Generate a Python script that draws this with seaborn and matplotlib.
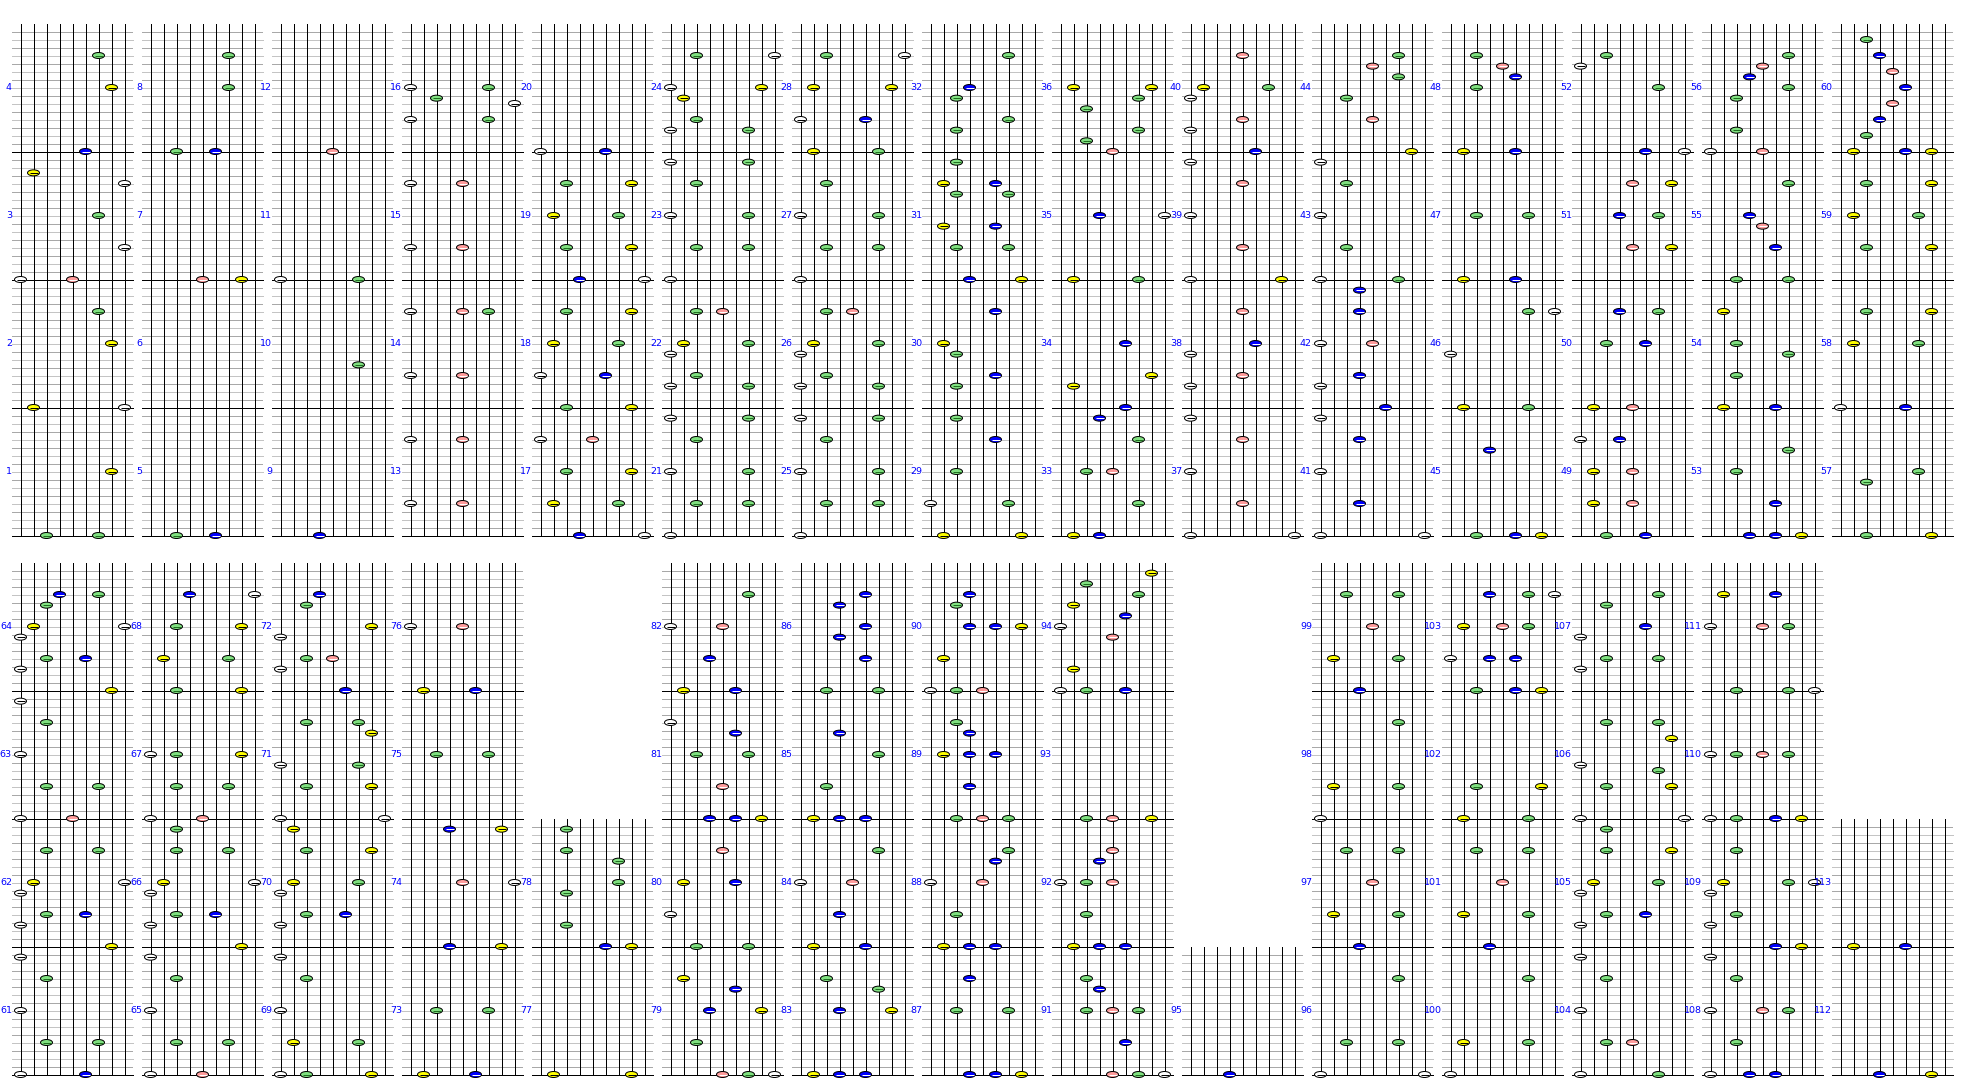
import matplotlib
matplotlib.use("Agg")
import matplotlib.pyplot as plt
from matplotlib.path import Path
from matplotlib.markers import MarkerStyle
import numpy as np
import pandas as pd
import seaborn as sns

# ---------------- data ----------------
# lane -> note colour family (pop'n style 9 buttons)
lane_kind = ["white", "yellow", "green", "blue", "red", "blue", "green", "yellow", "white"]
kind_fill = {"white": "#ffffff", "yellow": "#ffff00", "green": "#80e080",
             "blue": "#0000ff", "red": "#ff9c9c"}
kind_stripe = {"white": "#000000", "yellow": "#000000", "green": "#207020",
               "blue": "#ffffff", "red": "#ffffff"}

# panel layout: first measure and number of measures in each column
panel_first = [1, 5, 9, 13, 17, 21, 25, 29, 33, 37, 41, 45, 49, 53, 57,
               61, 65, 69, 73, 77, 79, 83, 87, 91, 95, 96, 100, 104, 108, 112]
panel_len = [4] * 15 + [4, 4, 4, 4, 2, 4, 4, 4, 4, 1, 4, 4, 4, 4, 2]

steps_per_measure = 16   # grid lines per measure
ticks_per_measure = 48   # note position resolution

# notes: (measure, tick within measure [0..47], lane 1..9)
notes_m001_020 = [
    (1, 0, 3), (1, 0, 7), (1, 24, 8),
    (2, 0, 2), (2, 0, 9), (2, 24, 8), (2, 36, 7),
    (3, 0, 1), (3, 0, 5), (3, 12, 9), (3, 24, 7), (3, 36, 9), (3, 40, 2),
    (4, 0, 6), (4, 24, 8), (4, 36, 7),
    (5, 0, 3), (5, 0, 6),
    (7, 0, 5), (7, 0, 8),
    (8, 0, 3), (8, 0, 6), (8, 24, 7), (8, 36, 7),
    (9, 0, 4),
    (10, 16, 7),
    (11, 0, 1), (11, 0, 7),
    (12, 0, 5),
    (13, 12, 1), (13, 12, 5), (13, 36, 1), (13, 36, 5),
    (14, 12, 1), (14, 12, 5), (14, 36, 1), (14, 36, 5), (14, 36, 7),
    (15, 12, 1), (15, 12, 5), (15, 36, 1), (15, 36, 5),
    (16, 12, 1), (16, 12, 7), (16, 18, 9), (16, 20, 3), (16, 24, 1), (16, 24, 7),
    (17, 0, 4), (17, 0, 9), (17, 12, 2), (17, 12, 7), (17, 24, 3), (17, 24, 8), (17, 36, 1), (17, 36, 5),
    (18, 0, 3), (18, 0, 8), (18, 12, 1), (18, 12, 6), (18, 24, 2), (18, 24, 7), (18, 36, 3), (18, 36, 8),
    (19, 0, 4), (19, 0, 9), (19, 12, 3), (19, 12, 8), (19, 24, 2), (19, 24, 7), (19, 36, 3), (19, 36, 8),
    (20, 0, 1), (20, 0, 6),
]

notes_m021_040 = [
    (21, 0, 1), (21, 12, 3), (21, 12, 7), (21, 24, 1), (21, 24, 7), (21, 36, 3), (21, 44, 1), (21, 44, 7),
    (22, 8, 1), (22, 8, 7), (22, 12, 3), (22, 20, 1), (22, 24, 2), (22, 24, 7), (22, 36, 3), (22, 36, 5),
    (23, 0, 1), (23, 12, 3), (23, 12, 7), (23, 24, 1), (23, 24, 7), (23, 36, 3), (23, 44, 1), (23, 44, 7),
    (24, 8, 1), (24, 8, 7), (24, 12, 3), (24, 20, 2), (24, 24, 1), (24, 24, 8), (24, 36, 3), (24, 36, 9),
    (25, 0, 1), (25, 12, 3), (25, 12, 7), (25, 24, 1), (25, 24, 7), (25, 36, 3), (25, 44, 1), (25, 44, 7),
    (26, 8, 1), (26, 8, 7), (26, 12, 3), (26, 20, 1), (26, 24, 2), (26, 24, 7), (26, 36, 3), (26, 36, 5),
    (27, 0, 1), (27, 12, 3), (27, 12, 7), (27, 24, 1), (27, 24, 7), (27, 36, 3),
    (28, 0, 2), (28, 0, 7), (28, 12, 1), (28, 12, 6), (28, 24, 2), (28, 24, 8), (28, 36, 3), (28, 36, 9),
    (29, 0, 2), (29, 0, 8), (29, 12, 1), (29, 12, 7), (29, 24, 3), (29, 36, 6), (29, 44, 3),
    (30, 8, 3), (30, 12, 6), (30, 20, 3), (30, 24, 2), (30, 36, 6),
    (31, 0, 4), (31, 0, 8), (31, 12, 3), (31, 12, 7), (31, 20, 2), (31, 20, 6), (31, 32, 3), (31, 32, 7),
    (31, 36, 2), (31, 36, 6), (31, 44, 3),
    (32, 8, 3), (32, 12, 7), (32, 20, 3), (32, 24, 4), (32, 36, 7),
    (33, 0, 2), (33, 0, 4), (33, 12, 7), (33, 24, 3), (33, 24, 5), (33, 36, 7), (33, 44, 4),
    (34, 0, 6), (34, 8, 2), (34, 12, 8), (34, 24, 6),
    (35, 0, 2), (35, 0, 7), (35, 24, 4), (35, 24, 9),
    (36, 0, 5), (36, 4, 3), (36, 8, 7), (36, 16, 3), (36, 20, 7), (36, 24, 2), (36, 24, 8),
    (37, 0, 1), (37, 0, 9), (37, 12, 5), (37, 24, 1), (37, 36, 5), (37, 44, 1),
    (38, 8, 1), (38, 12, 5), (38, 20, 1), (38, 24, 6), (38, 36, 5),
    (39, 0, 1), (39, 0, 8), (39, 12, 5), (39, 24, 1), (39, 36, 5), (39, 44, 1),
    (40, 0, 6), (40, 8, 1), (40, 12, 5), (40, 20, 1), (40, 24, 2), (40, 24, 7), (40, 36, 5),
]

notes_m041_060 = [
    (41, 0, 1), (41, 0, 9), (41, 12, 4), (41, 24, 1), (41, 36, 4), (41, 44, 1),
    (42, 0, 6), (42, 8, 1), (42, 12, 4), (42, 24, 1), (42, 24, 5), (42, 36, 4), (42, 44, 4),
    (43, 0, 1), (43, 0, 7), (43, 12, 3), (43, 24, 1), (43, 36, 3), (43, 44, 1),
    (44, 0, 8), (44, 12, 5), (44, 20, 3), (44, 28, 7), (44, 32, 5), (44, 36, 7),
    (45, 0, 3), (45, 0, 6), (45, 0, 8), (45, 32, 4),
    (46, 0, 2), (46, 0, 7), (46, 20, 1), (46, 36, 7), (46, 36, 9),
    (47, 0, 2), (47, 0, 6), (47, 24, 3), (47, 24, 7),
    (48, 0, 2), (48, 0, 6), (48, 24, 3), (48, 28, 6), (48, 32, 5), (48, 36, 3),
    (49, 0, 3), (49, 0, 6), (49, 12, 2), (49, 12, 5), (49, 24, 2), (49, 24, 5), (49, 36, 1), (49, 36, 4),
    (50, 0, 2), (50, 0, 5), (50, 24, 3), (50, 24, 6), (50, 36, 4), (50, 36, 7),
    (51, 12, 5), (51, 12, 8), (51, 24, 4), (51, 24, 7), (51, 36, 5), (51, 36, 8),
    (52, 0, 6), (52, 0, 9), (52, 24, 7), (52, 32, 1), (52, 36, 3),
    (53, 0, 4), (53, 0, 6), (53, 0, 8), (53, 12, 6), (53, 24, 3), (53, 32, 7),
    (54, 0, 2), (54, 0, 6), (54, 12, 3), (54, 20, 7), (54, 24, 3), (54, 36, 2),
    (55, 0, 3), (55, 0, 7), (55, 12, 6), (55, 20, 5), (55, 24, 4), (55, 36, 7),
    (56, 0, 1), (56, 0, 5), (56, 8, 3), (56, 20, 3), (56, 24, 7), (56, 28, 4), (56, 32, 5), (56, 36, 7),
    (57, 0, 3), (57, 0, 8), (57, 20, 3), (57, 24, 7),
    (58, 0, 1), (58, 0, 6), (58, 24, 2), (58, 24, 7), (58, 36, 3), (58, 36, 8),
    (59, 12, 3), (59, 12, 8), (59, 24, 2), (59, 24, 7), (59, 36, 3), (59, 36, 8),
    (60, 0, 2), (60, 0, 6), (60, 0, 8), (60, 6, 3), (60, 12, 4), (60, 18, 5), (60, 24, 6),
    (60, 30, 5), (60, 36, 4), (60, 42, 3),
]

notes_m061_080 = [
    (61, 0, 1), (61, 0, 6), (61, 12, 3), (61, 12, 7), (61, 24, 1), (61, 36, 3), (61, 44, 1),
    (62, 0, 8), (62, 8, 1), (62, 12, 3), (62, 12, 6), (62, 20, 1), (62, 24, 2), (62, 24, 9), (62, 36, 3), (62, 36, 7),
    (63, 0, 1), (63, 0, 5), (63, 12, 3), (63, 12, 7), (63, 24, 1), (63, 36, 3), (63, 44, 1),
    (64, 0, 8), (64, 8, 1), (64, 12, 3), (64, 12, 6), (64, 20, 1), (64, 24, 2), (64, 24, 9), (64, 32, 3),
    (64, 36, 4), (64, 36, 7),
    (65, 0, 1), (65, 0, 5), (65, 12, 3), (65, 12, 7), (65, 24, 1), (65, 36, 3), (65, 44, 1),
    (66, 0, 8), (66, 8, 1), (66, 12, 3), (66, 12, 6), (66, 20, 1), (66, 24, 2), (66, 24, 9), (66, 36, 3),
    (66, 36, 7), (66, 44, 3),
    (67, 0, 1), (67, 0, 5), (67, 12, 3), (67, 12, 7), (67, 24, 1), (67, 24, 3), (67, 24, 8),
    (68, 0, 3), (68, 0, 8), (68, 12, 2), (68, 12, 7), (68, 24, 3), (68, 24, 8), (68, 36, 4), (68, 36, 9),
    (69, 0, 1), (69, 0, 3), (69, 0, 8), (69, 12, 2), (69, 12, 7), (69, 24, 1), (69, 36, 3), (69, 44, 1),
    (70, 8, 1), (70, 12, 3), (70, 12, 6), (70, 20, 1), (70, 24, 2), (70, 24, 7), (70, 36, 3), (70, 36, 8), (70, 44, 2),
    (71, 0, 1), (71, 0, 9), (71, 12, 3), (71, 12, 8), (71, 20, 1), (71, 20, 7), (71, 32, 8), (71, 36, 3), (71, 36, 7),
    (72, 0, 6), (72, 8, 1), (72, 12, 3), (72, 12, 5), (72, 20, 1), (72, 24, 8), (72, 32, 3), (72, 36, 4),
    (73, 0, 2), (73, 0, 6), (73, 24, 3), (73, 24, 7),
    (74, 0, 4), (74, 0, 8), (74, 24, 5), (74, 24, 9), (74, 44, 4), (74, 44, 8),
    (75, 24, 3), (75, 24, 7),
    (76, 0, 2), (76, 0, 6), (76, 24, 1), (76, 24, 5),
    (77, 0, 2), (77, 0, 8),
    (78, 0, 6), (78, 0, 8), (78, 8, 3), (78, 20, 3), (78, 24, 7), (78, 32, 7), (78, 36, 3), (78, 44, 3),
    (79, 0, 5), (79, 0, 7), (79, 0, 9), (79, 12, 3), (79, 24, 4), (79, 24, 8), (79, 32, 6), (79, 36, 2),
    (80, 0, 3), (80, 0, 7), (80, 12, 1), (80, 24, 2), (80, 24, 6), (80, 36, 5),
]

notes_m081_095 = [
    (81, 0, 4), (81, 0, 6), (81, 0, 8), (81, 12, 5), (81, 24, 3), (81, 24, 7), (81, 32, 6), (81, 36, 1),
    (82, 0, 2), (82, 0, 6), (82, 12, 4), (82, 24, 1), (82, 24, 5), (82, 36, 7),
    (83, 0, 2), (83, 0, 4), (83, 0, 6), (83, 24, 4), (83, 24, 8), (83, 32, 7), (83, 36, 3),
    (84, 0, 2), (84, 0, 6), (84, 12, 4), (84, 24, 1), (84, 24, 5), (84, 36, 7),
    (85, 0, 2), (85, 0, 4), (85, 0, 6), (85, 12, 3), (85, 24, 7), (85, 32, 4),
    (86, 0, 3), (86, 0, 7), (86, 12, 6), (86, 20, 4), (86, 24, 6), (86, 32, 4), (86, 36, 6),
    (87, 0, 4), (87, 0, 6), (87, 0, 8), (87, 24, 3), (87, 24, 7), (87, 36, 4),
    (88, 0, 2), (88, 0, 4), (88, 0, 6), (88, 12, 3), (88, 24, 1), (88, 24, 5), (88, 32, 6), (88, 36, 7),
    (89, 0, 3), (89, 0, 5), (89, 0, 7), (89, 12, 4), (89, 24, 2), (89, 24, 4), (89, 24, 6), (89, 32, 4), (89, 36, 3),
    (90, 0, 1), (90, 0, 3), (90, 0, 5), (90, 12, 2), (90, 24, 4), (90, 24, 6), (90, 24, 8), (90, 32, 3), (90, 36, 4),
    (91, 0, 5), (91, 0, 7), (91, 0, 9), (91, 12, 6), (91, 24, 3), (91, 24, 5), (91, 24, 7), (91, 32, 4), (91, 36, 3),
    (92, 0, 2), (92, 0, 4), (92, 0, 6), (92, 12, 3), (92, 24, 1), (92, 24, 3), (92, 24, 5), (92, 32, 4), (92, 36, 5),
    (93, 0, 3), (93, 0, 5), (93, 0, 8),
    (94, 0, 1), (94, 0, 3), (94, 0, 6), (94, 8, 2), (94, 20, 5), (94, 24, 1), (94, 28, 6), (94, 32, 2),
    (94, 36, 7), (94, 40, 3), (94, 44, 8),
    (95, 0, 4),
]

notes_m096_113 = [
    (96, 0, 1), (96, 0, 9), (96, 12, 3), (96, 12, 7), (96, 36, 7),
    (97, 0, 4), (97, 12, 2), (97, 12, 7), (97, 24, 5), (97, 36, 3), (97, 36, 7),
    (98, 0, 1), (98, 12, 2), (98, 12, 7), (98, 36, 7),
    (99, 0, 4), (99, 12, 2), (99, 12, 7), (99, 24, 5), (99, 36, 3), (99, 36, 7),
    (100, 0, 1), (100, 12, 2), (100, 12, 7), (100, 36, 7),
    (101, 0, 4), (101, 12, 2), (101, 12, 7), (101, 24, 5), (101, 36, 3), (101, 36, 7),
    (102, 0, 2), (102, 0, 7), (102, 12, 3), (102, 12, 8),
    (103, 0, 3), (103, 0, 6), (103, 0, 8), (103, 12, 1), (103, 12, 4), (103, 12, 6), (103, 24, 2),
    (103, 24, 5), (103, 24, 7), (103, 36, 4), (103, 36, 7), (103, 36, 9),
    (104, 0, 1), (104, 0, 7), (104, 12, 3), (104, 12, 5), (104, 24, 1), (104, 36, 3), (104, 44, 1),
    (105, 8, 1), (105, 12, 3), (105, 12, 6), (105, 20, 1), (105, 24, 2), (105, 24, 7), (105, 36, 3),
    (105, 36, 8), (105, 44, 3),
    (106, 0, 1), (106, 0, 9), (106, 12, 3), (106, 12, 8), (106, 18, 7), (106, 20, 1), (106, 30, 8),
    (106, 36, 3), (106, 36, 7),
    (107, 8, 1), (107, 12, 3), (107, 12, 7), (107, 20, 1), (107, 24, 6), (107, 32, 3), (107, 36, 7),
    (108, 0, 1), (108, 0, 4), (108, 0, 6), (108, 12, 3), (108, 24, 1), (108, 24, 5), (108, 24, 7),
    (108, 36, 3), (108, 44, 1),
    (109, 0, 6), (109, 0, 8), (109, 8, 1), (109, 12, 3), (109, 20, 1), (109, 24, 2), (109, 24, 7),
    (109, 24, 9), (109, 36, 3),
    (110, 0, 1), (110, 0, 3), (110, 0, 6), (110, 0, 8), (110, 24, 1), (110, 24, 3), (110, 24, 5), (110, 24, 7),
    (111, 0, 3), (111, 0, 7), (111, 0, 9), (111, 24, 1), (111, 24, 5), (111, 24, 7), (111, 36, 2), (111, 36, 6),
    (112, 0, 4), (112, 0, 8),
    (113, 0, 2), (113, 0, 6),
]

# ---------------- layout (pixels of the 1970x1090 canvas) ----------------
W, H = 1970, 1090
lane_px = 13.0            # distance between lanes
measure_px = 128.0        # height of one measure
first_lane_px = 20.5      # x of lane 1 in the first column
row_bottom_px = [535.5, 1074.5]
panels_per_row = 15
lanes_per_panel = 10      # 9 lanes + gap
line_overhang = 8.5 / lane_px

sns.set_theme(style="white")
plt.rcParams["font.family"] = ["DejaVu Sans"]

fig = plt.figure(figsize=(W / 100, H / 100), dpi=100)
fig.patch.set_facecolor("white")
ax = fig.add_axes([0, 0, 1, 1])
ax.set_xlim(1 - first_lane_px / lane_px, 1 + (W - first_lane_px) / lane_px)
ax.set_ylim(-(H - row_bottom_px[1]) / measure_px, row_bottom_px[1] / measure_px)
ax.axis("off")
row_base = [(row_bottom_px[1] - row_bottom_px[0]) / measure_px, 0.0]

lw = 0.72  # one pixel

# measure -> (x offset, y offset)
measure_pos = {}
black_y, black_x0, black_x1 = [], [], []
gray_y, gray_x0, gray_x1 = [], [], []
dot_y, dot_x0, dot_x1 = [], [], []
for i, (first, n) in enumerate(zip(panel_first, panel_len)):
    row, col = divmod(i, panels_per_row)
    xo = col * lanes_per_panel
    yb = row_base[row]
    xa, xb = xo + 1 - line_overhang, xo + 9 + line_overhang
    for j in range(n):
        measure_pos[first + j] = (xo, yb + j)
        ax.text(xa, yb + j + 0.5, str(first + j), ha="right", va="center",
                color="#0000ff", fontsize=6.8, zorder=8)
    for k in range(n * steps_per_measure):
        y = yb + k / steps_per_measure
        if k % steps_per_measure == 0:
            black_y.append(y); black_x0.append(xa); black_x1.append(xb)
        elif k % 2 == 0:
            gray_y.append(y); gray_x0.append(xa); gray_x1.append(xb)
        else:
            dot_y.append(y); dot_x0.append(xa); dot_x1.append(xb)
    ax.vlines([xo + l for l in range(1, 10)], yb, yb + n, colors="black",
              linewidth=lw, antialiased=False, zorder=3)

ax.hlines(dot_y, dot_x0, dot_x1, colors="#a8a8a8", linewidth=lw,
          linestyles=(0, (1, 1)), antialiased=False, zorder=1)
ax.hlines(gray_y, gray_x0, gray_x1, colors="#c4c4c4", linewidth=lw,
          antialiased=False, zorder=1)
ax.hlines(black_y, black_x0, black_x1, colors="black", linewidth=lw,
          antialiased=False, zorder=2)

# ---------------- notes ----------------
all_notes = (notes_m001_020 + notes_m021_040 + notes_m041_060 +
             notes_m061_080 + notes_m081_095 + notes_m096_113)
df = pd.DataFrame(all_notes, columns=["measure", "tick", "lane"])
df["x"] = [measure_pos[m][0] + l for m, l in zip(df["measure"], df["lane"])]
df["y"] = [measure_pos[m][1] + t / ticks_per_measure for m, t in zip(df["measure"], df["tick"])]
df["kind"] = [lane_kind[l - 1] for l in df["lane"]]

circle = Path.unit_circle()
ellipse = Path(circle.vertices * np.array([1.0, 0.5]), circle.codes)
ellipse_marker = MarkerStyle(ellipse)
note_w_pt = 12.0 * 0.72

sns.scatterplot(data=df, x="x", y="y", hue="kind", palette=kind_fill,
                marker=ellipse_marker, s=note_w_pt ** 2, edgecolor="black",
                linewidth=lw, legend=False, ax=ax, zorder=5)
ax.scatter(df["x"], df["y"], marker="_", s=(8.0 * 0.72) ** 2,
           c=[kind_stripe[k] for k in df["kind"]], linewidths=lw, zorder=6)

ax.set_xlim(1 - first_lane_px / lane_px, 1 + (W - first_lane_px) / lane_px)
ax.set_ylim(-(H - row_bottom_px[1]) / measure_px, row_bottom_px[1] / measure_px)
ax.set_xlabel(""); ax.set_ylabel("")
fig.savefig("out.png", dpi=100, facecolor="white")
